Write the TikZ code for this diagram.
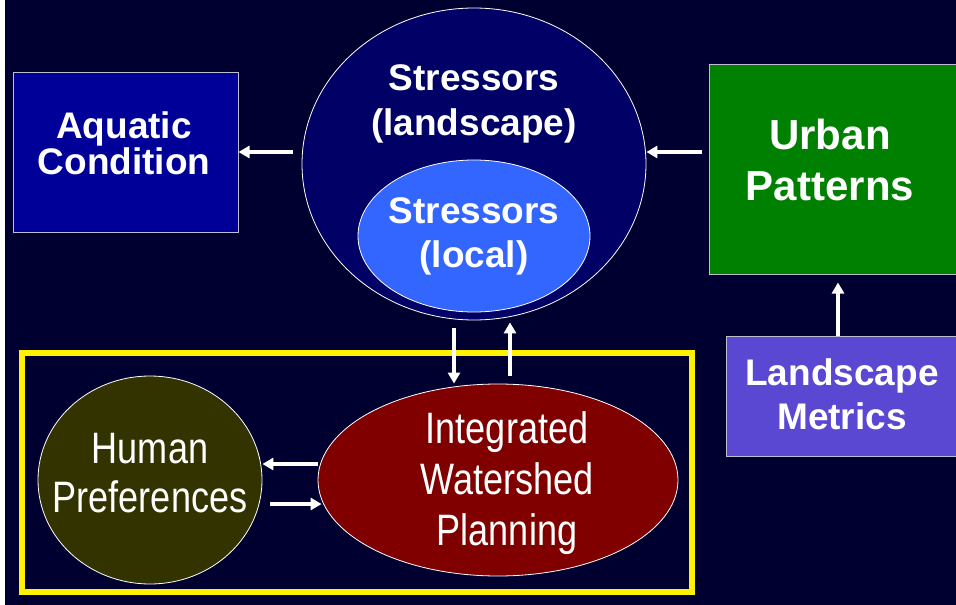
\documentclass[tikz,border=0pt]{standalone}
\usepackage{fontspec}
\setmainfont{Liberation Sans}
\newfontfamily\narrowfont[FakeStretch=0.82]{Liberation Sans}
\usetikzlibrary{shapes.geometric,arrows.meta,positioning}

\definecolor{bgnavy}{RGB}{0,0,48}
\definecolor{aquablue}{RGB}{0,0,153}
\definecolor{stressnavy}{RGB}{0,0,102}
\definecolor{localblue}{RGB}{51,102,255}
\definecolor{urbangreen}{RGB}{0,128,0}
\definecolor{metricviolet}{RGB}{90,72,210}
\definecolor{humanolive}{RGB}{51,51,0}
\definecolor{planmaroon}{RGB}{128,0,0}
\definecolor{edgegray}{RGB}{190,190,205}

\tikzset{
	box/.style={draw=edgegray,line width=1pt,minimum width=#1,inner sep=0pt},
	oval/.style={ellipse,draw=white,line width=0.8pt,inner sep=0pt},
	boldtxt/.style={text=white,align=center,anchor=base,inner sep=0pt,font=\bfseries\fontsize{37}{#1}\selectfont},
	thintxt/.style={text=white,align=center,anchor=base,inner sep=0pt,font=\narrowfont\fontsize{44}{#1}\selectfont},
	arr/.style={draw=white,line width=3.5pt,-{Triangle[length=11pt,width=12pt]}}
}

\begin{document}
\begin{tikzpicture}[x=1pt,y=-1pt]
	\useasboundingbox (0,0) rectangle (956,605);
	\fill[bgnavy] (0,0) rectangle (956,605);
	\fill[white] (0,0) rectangle (5,605);
	\fill[black] (5,0) rectangle (6,605);

	\node[box=225pt,minimum height=160pt,fill=aquablue] (aquatic) at (125.5,152) {};
	\node[oval,fill=stressnavy,minimum width=344pt,minimum height=312pt] (stressL) at (474,164) {};
	\node[oval,fill=localblue,minimum width=232pt,minimum height=152pt] (stressl) at (474,236) {};
	\node[box=251pt,minimum height=210pt,fill=urbangreen] (urban) at (834.5,169) {};
	\node[box=234pt,minimum height=120pt,fill=metricviolet] (metrics) at (843,396) {};
	\draw[yellow,line width=6pt] (22,353) rectangle (692,592);
	\node[oval,fill=humanolive,minimum width=224pt,minimum height=208pt] (human) at (150,480) {};
	\node[oval,fill=planmaroon,minimum width=360pt,minimum height=192pt] (iwp) at (498,480) {};

	% base anchor = baseline of the last line
	\node[boldtxt=32pt] (aquatictxt) at (124,174) {Aquatic\\Condition};
	\node[boldtxt=45pt] (stressLtxt) at (474,135) {Stressors\\(landscape)};
	\node[boldtxt=44pt] (stressltxt) at (474,267) {Stressors\\(local)};
	\node[boldtxt=51pt,font=\bfseries\fontsize{42}{51}\selectfont] (urbantxt) at (830,200) {Urban\\Patterns};
	\node[boldtxt=44pt] (metricstxt) at (842,429) {Landscape\\Metrics};
	\node[thintxt=49pt] (humantxt) at (150,512) {Human\\Preferences};
	\node[thintxt=51pt] (iwptxt) at (507,545) {Integrated\\Watershed\\Planning};

	\coordinate (urbanfoot) at ([xshift=-5pt]metrics.north);
	\draw[arr] ([xshift=-9pt,yshift=12pt]stressL.west) -- (aquatic.east);
	\draw[arr] ([shift={(-7pt,17pt)}]urban.west) -- ([yshift=12pt]stressL.east);
	\draw[arr] (urbanfoot) -- ([yshift=-8pt]urban.south -| urbanfoot);
	\draw[arr] ([shift={(-20pt,-8pt)}]stressL.south) -- ([xshift=-44pt]iwp.north);
	\draw[arr] ([shift={(12pt,8pt)}]iwp.north) -- ([shift={(36pt,-2pt)}]stressL.south);
	\draw[arr] ([yshift=16pt]iwp.west) -- ([yshift=16pt]human.east);
	\draw[arr] ([shift={(8pt,-24pt)}]human.east) -- ([shift={(4pt,-24pt)}]iwp.west);
\end{tikzpicture}
\end{document}
